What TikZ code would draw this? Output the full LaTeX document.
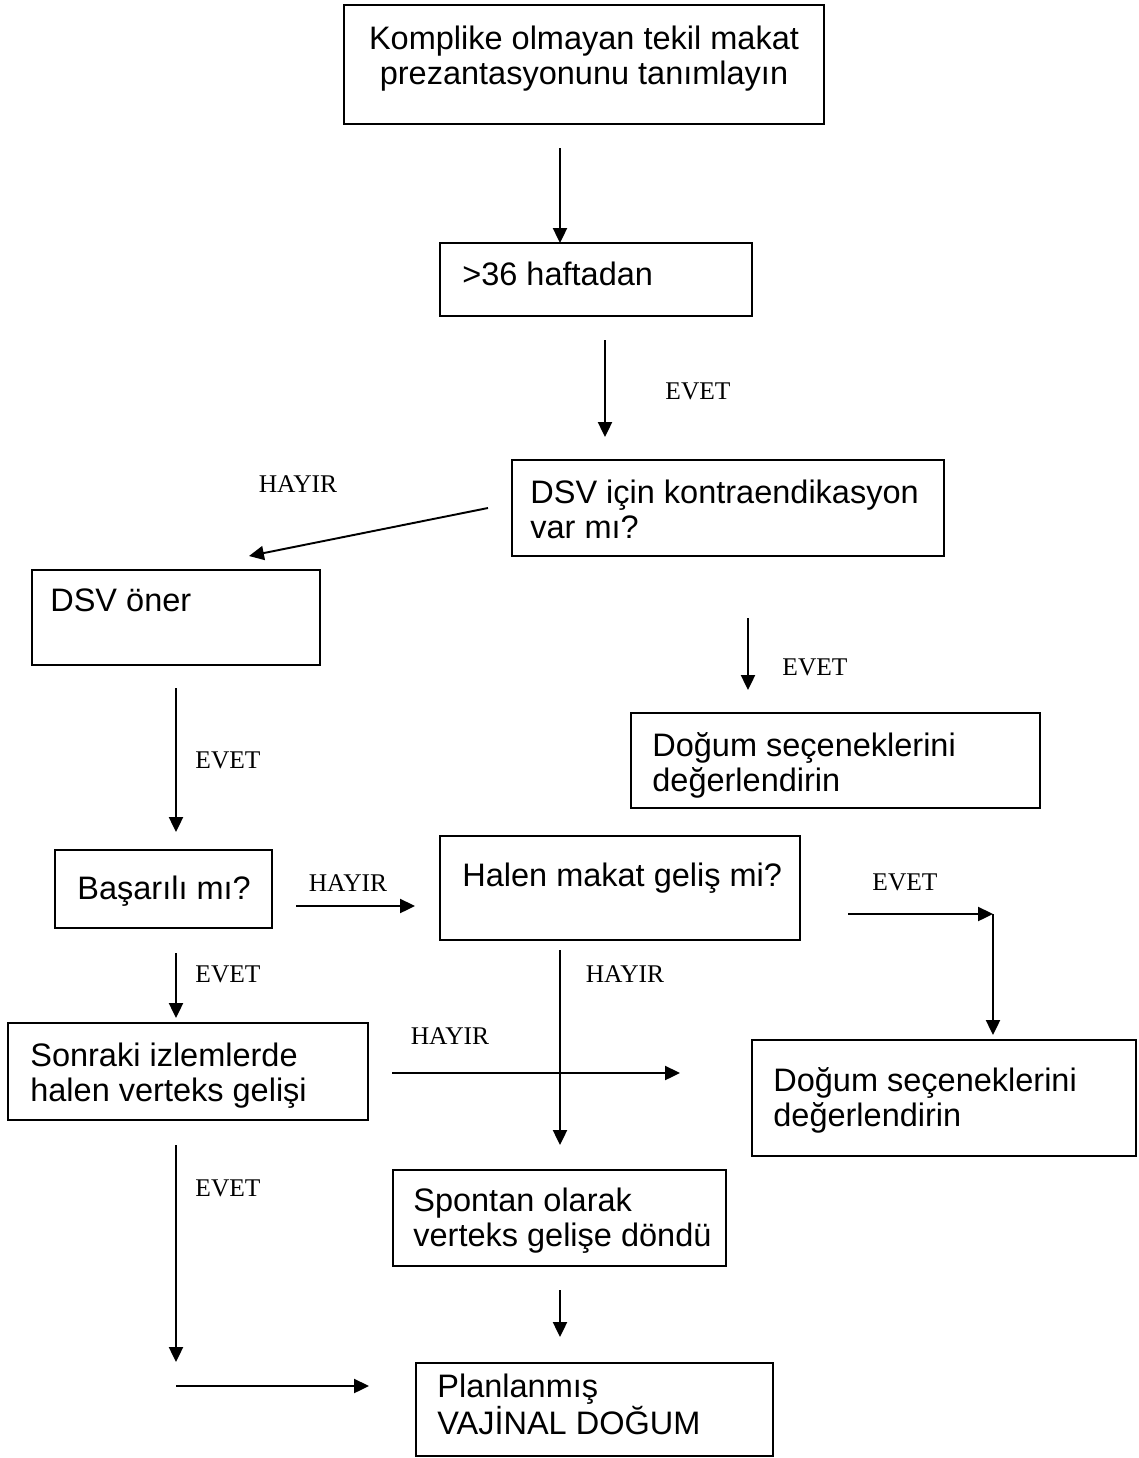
\documentclass[tikz,border=0pt]{standalone}
\usepackage{fontspec}
\setmainfont{Liberation Sans}
\newfontfamily\lblfont{Liberation Serif}
\usetikzlibrary{arrows.meta,fit}
\begin{document}
\begin{tikzpicture}[x=0.02cm,y=-0.02cm,
  box/.style={draw,line width=1.1pt,inner sep=0pt,fit=#1},
  txt/.style={inner sep=0pt,align=left,font=\fontsize{18.5}{19.85}\selectfont},
  lbl/.style={inner sep=0pt,font=\lblfont\fontsize{14.5}{16}\selectfont},
  arr/.style={line width=1.1pt,-{Triangle[length=8.5pt,width=8pt]}},
  ln/.style={line width=1.1pt}]
\useasboundingbox (0,0) rectangle (1139,1458);
% boxes
\coordinate (b1a) at (344,5);    \coordinate (b1b) at (824,124);
\coordinate (b2a) at (440,243);  \coordinate (b2b) at (752,316);
\coordinate (b3a) at (512,460);  \coordinate (b3b) at (944,556);
\coordinate (b4a) at (32,570);   \coordinate (b4b) at (320,665);
\coordinate (b5a) at (631,713);  \coordinate (b5b) at (1040,808);
\coordinate (b6a) at (55,850);   \coordinate (b6b) at (272,928);
\coordinate (b7a) at (440,836);  \coordinate (b7b) at (800,940);
\coordinate (b8a) at (8,1023);   \coordinate (b8b) at (368,1120);
\coordinate (b9a) at (752,1040); \coordinate (b9b) at (1136,1156);
\coordinate (b10a) at (393,1170); \coordinate (b10b) at (726,1266);
\coordinate (b11a) at (416,1363); \coordinate (b11b) at (773,1456);
\foreach \n in {1,...,11} {\node[box=(b\n a)(b\n b)] (box\n) {};}
% texts (base anchor = baseline of the last line)
\node[txt,anchor=base,align=center] (t1) at (584,84) {Komplike olmayan tekil makat\\prezantasyonunu tanımlayın};
\node[txt,anchor=base west] (t2) at (462,285) {>36 haftadan};
\node[txt,anchor=base west] (t3) at (530,538) {DSV için kontraendikasyon\\var mı?};
\node[txt,anchor=base west] (t4) at (50,611) {DSV öner};
\node[txt,anchor=base west] (t5) at (652,791) {Doğum seçeneklerini\\değerlendirin};
\node[txt,anchor=base west] (t6) at (77,899) {Başarılı mı?};
\node[txt,anchor=base west] (t7) at (462,886) {Halen makat geliş mi?};
\node[txt,anchor=base west] (t8) at (30,1101) {Sonraki izlemlerde\\halen verteks gelişi};
\node[txt,anchor=base west] (t9) at (773,1126) {Doğum seçeneklerini\\değerlendirin};
\node[txt,anchor=base west] (t10) at (413,1246) {Spontan olarak\\verteks gelişe döndü};
\node[txt,anchor=base west] (t11) at (437,1434) {Planlanmış\\VAJİNAL DOĞUM};
% labels
\node[lbl] (l1) at (698,391) {EVET};
\node[lbl] (l2) at (298,484) {HAYIR};
\node[lbl] (l3) at (815,667) {EVET};
\node[lbl] (l4) at (228,760) {EVET};
\node[lbl] (l5) at (348,883) {HAYIR};
\node[lbl] (l6) at (905,882) {EVET};
\node[lbl] (l7) at (228,974) {EVET};
\node[lbl] (l8) at (625,974) {HAYIR};
\node[lbl] (l9) at (450,1036) {HAYIR};
\node[lbl] (l10) at (228,1188) {EVET};
% arrow end points
\coordinate (a1s) at (560,148);  \coordinate (a1e) at (560,243);
\coordinate (a2s) at (605,340);  \coordinate (a2e) at (605,437);
\coordinate (a3s) at (488,508);  \coordinate (a3e) at (249,556);
\coordinate (a4s) at (748,618);  \coordinate (a4e) at (748,690);
\coordinate (a5s) at (176,688);  \coordinate (a5e) at (176,832);
\coordinate (a6s) at (296,906);  \coordinate (a6e) at (415,906);
\coordinate (a7s) at (848,914);  \coordinate (a7e) at (993,914);
\coordinate (a8e) at (993,1035);
\coordinate (a9s) at (176,953);  \coordinate (a9e) at (176,1018);
\coordinate (a10s) at (560,950); \coordinate (a10e) at (560,1145);
\coordinate (a11s) at (392,1073); \coordinate (a11e) at (680,1073);
\coordinate (a12s) at (176,1145); \coordinate (a12e) at (176,1362);
\coordinate (a13s) at (176,1386); \coordinate (a13e) at (369,1386);
\coordinate (a14s) at (560,1290); \coordinate (a14e) at (560,1337);
\foreach \a in {1,2,3,4,5,6,7,9,10,11,12,13,14} {\draw[arr] (a\a s) -- (a\a e);}
\draw[arr] (a7e) -- (a8e);
\end{tikzpicture}
\end{document}
